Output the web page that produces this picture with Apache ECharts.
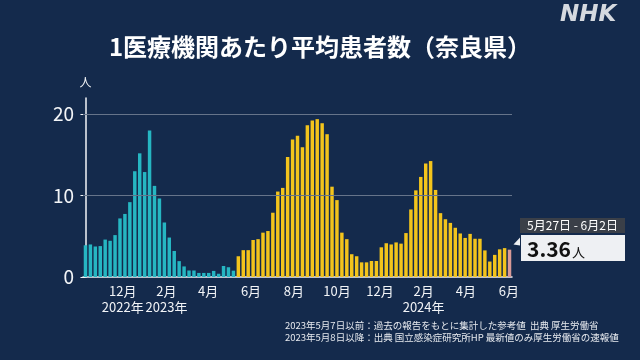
<!DOCTYPE html>
<html><head><meta charset="utf-8">
<script src="https://cdn.jsdelivr.net/npm/echarts@6/dist/echarts.min.js"></script>
<style>html,body{margin:0;padding:0;background:#142a4c;}#c{width:640px;height:360px;}</style>
</head><body><div id="c"></div>
<script>
// ---- data ----
const firstWeekEnd = '2022-10-09'; // Sunday ending the first plotted week
const tealValues = [3.9, 4.0, 3.75, 3.8, 4.6, 4.45, 5.15, 7.2, 7.75, 9.2, 13.0, 15.2, 12.9, 18.0, 11.2, 9.65, 6.7, 4.85, 3.2, 1.95, 1.3, 0.8, 0.8, 0.5, 0.5, 0.5, 0.75, 0.4, 1.35, 1.2, 0.78];
const yellowValues = [2.55, 3.3, 3.3, 4.55, 4.65, 5.45, 5.65, 7.9, 10.5, 10.95, 14.75, 16.9, 17.35, 15.95, 18.65, 19.25, 19.4, 18.9, 17.55, 11.1, 9.45, 5.45, 4.65, 2.8, 2.55, 1.8, 1.8, 1.97, 1.97, 3.65, 4.15, 4.0, 4.25, 4.1, 5.4, 8.3, 10.65, 12.3, 13.95, 14.25, 10.7, 7.85, 7.1, 6.65, 6.05, 5.35, 4.8, 5.3, 4.7, 4.7, 3.27, 1.9, 2.72, 3.4, 3.55];
const latestValue = 3.36;
const latestWeekLabel = '5月27日 - 6月2日';
const monthTickDates = ['2022-12-01', '2023-02-01', '2023-04-01', '2023-06-01', '2023-08-01', '2023-10-01', '2023-12-01', '2024-02-01', '2024-04-01', '2024-06-01'];
const monthTickLabels = ['12月', '2月', '4月', '6月', '8月', '10月', '12月', '2月', '4月', '6月'];
const yearTickLabels = ['2022年', '2023年', '', '', '', '', '', '2024年', '', ''];
const yTickValues = [0, 10, 20];
const yAxisName = '人';
const titleText = '1医療機関あたり平均患者数（奈良県）';
const noteLines = ['2023年5月7日以前：過去の報告をもとに集計した参考値  出典 厚生労働省', '2023年5月8日以降：出典 国立感染症研究所HP 最新値のみ厚生労働省の速報値'];

// ---- build ----
const TEAL = '#26b6c2', YELLOW = '#f3c41c', PINK = '#d99a97';
const FONT = '"Noto Sans CJK JP", "Noto Sans", sans-serif';
const values = tealValues.concat(yellowValues, [latestValue]);
const n = values.length;
const DAY = 86400000;
const t0 = Date.parse(firstWeekEnd + 'T00:00:00Z');
const categories = values.map((_, i) => new Date(t0 + i * 7 * DAY).toISOString().slice(0, 10));
const barData = values.map((v, i) => ({
  value: v,
  itemStyle: { color: i < tealValues.length ? TEAL : (i < n - 1 ? YELLOW : PINK) }
}));
const tickPos = monthTickDates.map(d => (Date.parse(d + 'T00:00:00Z') - t0) / (7 * DAY));

const chart = echarts.init(document.getElementById('c'), null, { renderer: 'canvas' });
chart.setOption({
  backgroundColor: '#142a4c',
  animation: false,
  textStyle: { fontFamily: FONT },
  title: {
    text: titleText, left: 'center', top: 30,
    textStyle: { color: '#ffffff', fontSize: 24, fontWeight: 'bold', fontFamily: FONT }
  },
  grid: { left: 83, right: 128, top: 98, bottom: 83 },
  xAxis: [{
    type: 'category', data: categories, boundaryGap: true,
    axisLine: { lineStyle: { color: '#f2f4f7', width: 1.5 } },
    axisTick: { show: false }, axisLabel: { show: false }
  }, {
    type: 'value', min: -0.5, max: n - 0.5, position: 'bottom',
    axisLine: { show: false }, axisTick: { show: false }, splitLine: { show: false },
    axisLabel: {
      customValues: tickPos, color: '#f2f4f7', fontSize: 13, lineHeight: 16, margin: 6,
      fontFamily: FONT,
      formatter: v => {
        const k = tickPos.findIndex(p => Math.abs(p - v) < 1e-6);
        if (k < 0) return '';
        return monthTickLabels[k] + (yearTickLabels[k] ? '\n' + yearTickLabels[k] : '');
      }
    }
  }],
  yAxis: {
    type: 'value', min: 0, max: 22, interval: 10,
    name: yAxisName, nameLocation: 'end', nameGap: 10,
    nameTextStyle: { color: '#f2f4f7', fontSize: 12, align: 'center', fontFamily: FONT },
    axisLine: { show: true, lineStyle: { color: '#f2f4f7', width: 1.5 } },
    axisTick: { show: true, customValues: yTickValues, length: 5, lineStyle: { color: '#f2f4f7' } },
    axisLabel: { customValues: yTickValues, color: '#f2f4f7', fontSize: 19, margin: 9, fontFamily: FONT },
    splitLine: { show: false }
  },
  series: [{
    type: 'bar', data: barData, xAxisIndex: 0, barCategoryGap: '30%',
    markLine: {
      silent: true, symbol: 'none', label: { show: false },
      lineStyle: { color: '#66748a', type: 'solid', width: 1 },
      data: yTickValues.filter(v => v > 0).map(v => ({ yAxis: v }))
    }
  }],
  graphic: [
    { type: 'text', left: 560, top: 4, style: { text: 'NHK', fill: '#d5d9df', font: 'italic bold 23px "DejaVu Sans", sans-serif' } },
    { type: 'rect', shape: { x: 520, y: 218, width: 105, height: 15 }, style: { fill: '#3a3f48' } },
    { type: 'text', x: 572.5, y: 225.5, style: { text: latestWeekLabel, fill: '#ffffff', font: '12px ' + FONT, align: 'center', verticalAlign: 'middle' } },
    { type: 'rect', shape: { x: 521, y: 235, width: 104, height: 26 }, style: { fill: '#eef0f3' } },
    { type: 'polygon', shape: { points: [[520, 237.5], [520, 245.5], [513.5, 244.5]] }, style: { fill: '#eef0f3' } },
    { type: 'text', x: 527, y: 249, style: {
        text: '{a|' + latestValue.toFixed(2) + '}{b|' + yAxisName + '}', verticalAlign: 'middle',
        rich: {
          a: { fontSize: 21, fontWeight: 'bold', fill: '#111111', fontFamily: FONT },
          b: { fontSize: 13, fill: '#111111', fontFamily: FONT, padding: [6, 0, 0, 1] }
        } } },
    { type: 'text', left: 285, top: 319, style: { text: noteLines.join('\n'), fill: '#e6e9ee', font: '9.5px ' + FONT, lineHeight: 12 } }
  ]
});
</script></body></html>
